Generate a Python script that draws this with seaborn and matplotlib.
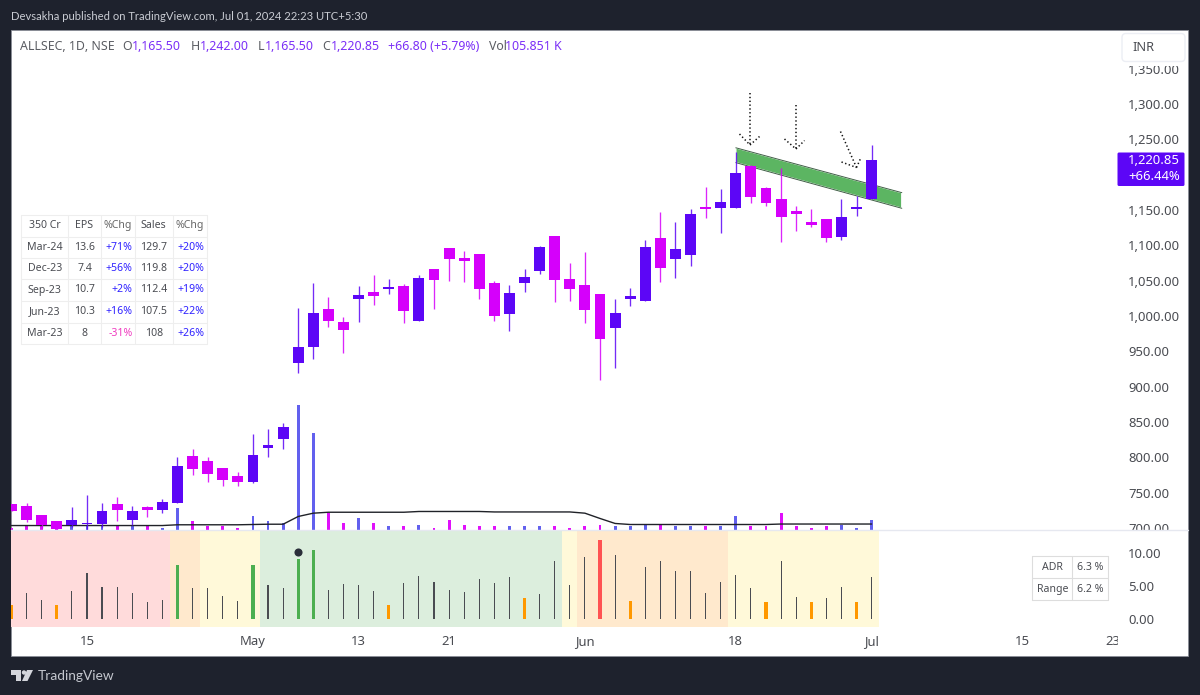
import matplotlib
matplotlib.use("Agg")
import matplotlib.pyplot as plt
import numpy as np
import pandas as pd
import seaborn as sns
from matplotlib.patches import Rectangle, Polygon, FancyBboxPatch, Circle
from matplotlib.transforms import Bbox

# ---------- data ----------
opens = [734,731,718,710,704,705,706,733.5,711,730,725.5,736,802,795,784.5,773.5,764.5,813.5,826,934,956.5,1009.5,991,1024.5,1034,1038,1043,993,1066.5,1096,1081.5,1088,1047,1003.5,1046,1063.5,1113,1052,1043.5,1031,983,1024,1021,1110,1081,1086,1153,1153,1153,1212.5,1181,1165,1149,1133,1137,1112,1152,1165.5]
highs = [734,736,718,710,730,747,736,744,731,731,741,801,812,801,785,779,833,840,848.5,1011,1046,1026.5,998,1043,1058,1052,1045,1058.5,1067,1096,1092,1088,1049,1044,1066,1099,1113,1074.5,1090.5,1031,1024,1040,1107.5,1147.5,1132.5,1152,1183,1180,1232,1213,1183,1209,1156,1152,1137,1165,1170,1242]
lows = [724,709,700,695,702,697,702,710,704,715.5,721.5,736,775,765.5,759,759,764,800,812,920,939,984,947,991,1015.5,1031.5,990,993,1010,1050,1048.5,1024.5,993,979,1034,1059,1020,1021.5,990,909.5,926,1014,1021,1048.5,1054,1071,1139,1118,1153,1159.5,1156,1105,1120,1126,1104,1108,1142,1165.5]
closes = [724,711,704,698,712,707.5,724.5,725.5,724.5,725.5,737,788,784,777,768.5,764.5,803,818,842.5,956.5,1004,993,980.5,1029,1028,1041,1007.5,1054,1051.5,1080,1078,1038,1000,1032,1055.5,1097,1051.5,1038,1009,967,1004,1028,1098,1067.5,1095,1145,1151.5,1161,1202,1168,1159.5,1140,1145,1129,1111,1140,1153.5,1220.85]
volumes_k = [21,32,32,21,32,53,32,32,32,32,21,223,85,42,32,21,148,85,74,1325,1018,170,64,117,64,42,42,53,21,106,53,42,32,42,32,42,42,21,32,53,32,32,53,53,42,42,42,42,138,42,32,170,32,21,32,53,21,106]
volume_ma_k = [42,42,42,42,42,42,42,42,42,42,42,50,50,50,50,50,53,56,56,138,173,183,183,183,183,183,183,191,191,191,191,191,186,186,186,186,186,186,173,117,64,53,53,53,53,53,53,53,53,53,53,58,58,58,58,58,58,58]
adr_values = [2.1,3.9,2.9,2.1,4.3,7.0,4.8,4.8,3.9,2.6,2.9,8.3,4.7,4.7,3.5,2.7,8.3,5.1,4.7,9.2,10.5,4.4,5.3,5.2,4.3,2.1,5.4,6.6,5.6,4.4,4.1,6.1,5.4,6.4,3.2,3.8,8.8,5.2,9.5,12.1,9.8,2.7,8.0,8.9,7.3,7.3,4.0,5.6,6.7,4.7,2.5,8.9,3.3,2.5,3.2,4.9,2.5,6.4]
orange_days = [0,3,25,34,41,50,53,56]
green_days = [11,16,19,20]
red_days = [39]
band_edges = [-0.5,10.5,12.5,16.5,36.5,37.5,47.5,57.5]
band_colors = ["#ffdbdb","#ffe9cd","#fff9d9","#dceedd","#fff9d9","#ffe9cd","#fff9d9"]
price_ticks = [700,750,800,850,900,950,1000,1050,1100,1150,1200,1250,1300,1350]
adr_ticks = [0,5,10]
date_pos = [5,16,23,29,38,48,57,67,73]
date_labels = ["15","May","13","21","Jun","18","Jul","15","23"]
date_bold = ["May","Jun","Jul"]
channel_x = [48,59,59,48]
channel_y = [1238,1174.5,1152.4,1217]
fund_header = ["350 Cr","EPS","%Chg","Sales","%Chg"]
fund_rows = [["Mar-24","13.6","+71%","129.7","+20%"],["Dec-23","7.4","+56%","119.8","+20%"],
             ["Sep-23","10.7","+2%","112.4","+19%"],["Jun-23","10.3","+16%","107.5","+22%"],
             ["Mar-23","8","-31%","108","+26%"]]

# ---------- style ----------
sns.set_theme(style="white")
FONT = ["Noto Sans", "DejaVu Sans"]
plt.rcParams["font.family"] = FONT
DARK = "#1e222d"; UP = "#5c06f6"; DOWN = "#d500fb"; TXT = "#4a4c52"
VUP = "#6260ee"; VDOWN = "#e010fb"

W, H = 1200, 695
fig = plt.figure(figsize=(W/100, H/100), dpi=100, facecolor=DARK)
def rect(x0, y0, x1, y1):
    return [x0/W, 1-y1/H, (x1-x0)/W, (y1-y0)/H]

X0, X1 = 11.0, 1118.0
PX = 15.09; XORG = 11.5
xlim = ((X0-XORG)/PX, (X1-XORG)/PX)
def price(y): return 700 + (528-y)*1.415
def adr(y): return (618.5-y)/6.5

bg = fig.add_axes([0,0,1,1], zorder=0); bg.set_xlim(0,W); bg.set_ylim(H,0); bg.axis("off")
bg.add_patch(Rectangle((11,30),1177,626,fc="white",ec="#8a8d96",lw=0.6))

df = pd.DataFrame(dict(i=np.arange(len(opens)),o=opens,h=highs,l=lows,c=closes,v=volumes_k,ma=volume_ma_k,a=adr_values))
df["k"] = "g"
df.loc[orange_days,"k"]="o"; df.loc[green_days,"k"]="c"; df.loc[red_days,"k"]="r"
df["dir"] = np.where(df.c>=df.o,"up","down")

# volume pane (behind candles)
ax_vol = fig.add_axes(rect(X0,30,X1,529.5), zorder=1)
ax_vol.patch.set_visible(False)
sns.barplot(data=df,x="i",y="v",hue="dir",palette={"up":VUP,"down":VDOWN},dodge=False,native_scale=True,
            orient="x",width=0.19,saturation=1,errorbar=None,legend=False,linewidth=0,ax=ax_vol)
sns.lineplot(data=df,x="i",y="ma",color="#202228",lw=1.0,errorbar=None,ax=ax_vol)
ax_vol.set_xlim(*xlim); ax_vol.set_ylim(0,499.5*10.6)
ax_vol.set_xticks([]); ax_vol.set_yticks([]); ax_vol.set_xlabel(""); ax_vol.set_ylabel("")
sns.despine(ax=ax_vol,left=True,bottom=True)

# candle pane
ax = fig.add_axes(rect(X0,30,X1,529.5), zorder=2)
ax.patch.set_visible(False)
ax.fill(channel_x,channel_y,fc="#5cb562",zorder=1)
ax.plot(channel_x[:2],channel_y[:2],color="#3f5f45",lw=0.7,zorder=1.5)
ax.plot(channel_x[2:],channel_y[2:],color="#3f5f45",lw=0.7,zorder=1.5)
colors = df.dir.map({"up":UP,"down":DOWN})
ax.vlines(df.i,df.l,df.h,colors=colors,lw=0.95,alpha=0.85,zorder=2)
ax.bar(df.i,(df.c-df.o).abs().clip(lower=2.5),bottom=df[["o","c"]].min(axis=1),width=0.72,color=colors,lw=0,zorder=3)
ax.set_xlim(*xlim); ax.set_ylim(price(529.5),price(30))
ax.set_xticks([]); ax.yaxis.tick_right()
ax.set_yticks(price_ticks); ax.set_yticklabels([f"{p:,.2f}" for p in price_ticks])
ax.tick_params(axis="y",length=0,pad=7.2,labelsize=9.4,labelcolor=TXT)
for sp in ax.spines.values(): sp.set_visible(False)
clip = Bbox([[X1, H-529.5],[1188, H-65.5]])
for t in ax.get_yticklabels():
    t.set_clip_box(clip); t.set_clip_on(True)

# lower pane
ax2 = fig.add_axes(rect(X0,530,X1,627), zorder=2)
ax2.patch.set_visible(False)
for a,b,col in zip(band_edges[:-1],band_edges[1:],band_colors):
    ax2.axvspan(a,b,fc=col,lw=0,zorder=0)
df["thin"] = df.a.where(df.k=="g")
df["wide"] = df.a.where(df.k!="g")
sns.barplot(data=df,x="i",y="thin",color="#4a4c52",native_scale=True,orient="x",width=0.075,saturation=1,errorbar=None,linewidth=0,ax=ax2,zorder=2)
sns.barplot(data=df,x="i",y="wide",hue="k",palette={"o":"#ff9800","c":"#4caf50","r":"#ff5252","g":"#3f4146"},dodge=False,native_scale=True,orient="x",
            width=0.22,saturation=1,errorbar=None,legend=False,linewidth=0,ax=ax2,zorder=2)
sns.scatterplot(x=[19],y=[10.25],color="#2a2e39",s=34,linewidth=0,ax=ax2,zorder=3)
ax2.set_xlim(*xlim); ax2.set_ylim(adr(627),adr(530))
ax2.set_xlabel(""); ax2.set_ylabel("")
ax2.yaxis.tick_right()
ax2.set_yticks(adr_ticks); ax2.set_yticklabels([f"{v:.2f}" for v in adr_ticks])
ax2.tick_params(axis="y",length=0,pad=7.2,labelsize=9.4,labelcolor=TXT)
ax2.set_xticks(date_pos); ax2.set_xticklabels(date_labels)
ax2.tick_params(axis="x",length=0,pad=6,labelsize=9.4,labelcolor=TXT)
for sp in ax2.spines.values(): sp.set_visible(False)
cx = Bbox([[0,0],[X1,H]])
for t in ax2.get_xticklabels():
    t.set_clip_box(cx); t.set_clip_on(True)
    if t.get_text() in date_bold: t.set_fontweight("semibold")

# overlay, pixel coordinates for chrome
ov = fig.add_axes([0,0,1,1], zorder=5); ov.set_xlim(0,W); ov.set_ylim(H,0); ov.axis("off")
ov.plot([11,1188],[529.6,529.6],color="#e6e8f0",lw=1)
def dotted(pts):
    xs,ys = zip(*pts)
    ov.plot(xs,ys,color="#111111",lw=1.1,ls=(0,(0.9,1.6)),dash_capstyle="butt")
arrows = [((750,93),(750,145),(739.5,134),(759.5,136.5)),
          ((796,105),(796,149),(784.5,139),(804.5,140.5)),
          ((840.5,131.5),(856.5,167.5),(841.5,162),(861,157.5))]
for s,e,l,r in arrows:
    dotted([s,e]); dotted([l,e]); dotted([e,r])

# header
ov.text(11,17,"Devsakha published on TradingView.com, Jul 01, 2024 22:23 UTC+5:30",color="#c9ccd3",fontsize=8.1,va="center",family=["Lato","DejaVu Sans"])
LG="#5b5d63"; LP="#7b2ff7"
for x,s,c in [(20,"ALLSEC, 1D, NSE",LG),(122.5,"O",LG),(132,"1,165.50",LP),(190.6,"H",LG),(200,"1,242.00",LP),
              (258,"L",LG),(265,"1,165.50",LP),(322.6,"C",LG),(331,"1,220.85",LP),(388.5,"+66.80 (+5.79%)",LP),(488.7,"Vol",LG),(505,"105.851 K",LP)]:
    ov.text(x,47,s,color=c,fontsize=8.9,va="center")

# fundamentals table
cols=[21,68.3,100.7,134.7,172.7,206.7]; rows=[214.7,237,257.7,279,301,322.7,344.3]
for x in cols: ov.plot([x,x],[rows[0],rows[-1]],color="#eeeeee",lw=0.8)
for y in rows: ov.plot([cols[0],cols[-1]],[y,y],color="#eeeeee",lw=0.8)
for r,row in enumerate([fund_header]+fund_rows):
    yc=(rows[r]+rows[r+1])/2
    for c,s in enumerate(row):
        col=TXT
        if r>0 and c in(2,4): col="#f03cc0" if s.startswith("-") else "#2f22ff"
        if r==0 and c in(2,4): col="#666666"
        ov.text(cols[c+1]-2 if (r>0 and c in (2,4)) else (cols[c]+cols[c+1])/2,yc,s,color=col,fontsize=7.6,va="center",
                ha="right" if (r>0 and c in (2,4)) else "center")

# ADR table
ac=[1032.3,1072.3,1107.7]; ar=[556.3,578.3,600]
for x in ac: ov.plot([x,x],[ar[0],ar[-1]],color="#dddddd",lw=0.8)
for y in ar: ov.plot([ac[0],ac[-1]],[y,y],color="#dddddd",lw=0.8)
for y,a,b in [((ar[0]+ar[1])/2,"ADR","6.3 %"),((ar[1]+ar[2])/2,"Range","6.2 %")]:
    ov.text((ac[0]+ac[1])/2,y,a,color=TXT,fontsize=7.6,va="center",ha="center")
    ov.text((ac[1]+ac[2])/2,y,b,color=TXT,fontsize=7.6,va="center",ha="center")

# INR box and last-price tag
ov.add_patch(FancyBboxPatch((1124,35.5),59,24,boxstyle="round,pad=2,rounding_size=4",fc="white",ec="#eceef4",lw=1))
ov.text(1132,47.5,"INR",color=TXT,fontsize=9.2,va="center")
ov.add_patch(FancyBboxPatch((1117.5,152.5),67,33.5,boxstyle="round,pad=0,rounding_size=1.5",fc=UP,ec="none"))
ov.text(1128,161,"1,220.85",color="white",fontsize=9.4,va="center",fontweight="semibold")
ov.text(1128,176.5,"+66.44%",color="white",fontsize=9.4,va="center",fontweight="semibold")

# footer logo
LOGO="#d4d6dc"
ov.add_patch(Polygon([(11,670),(21,670),(21,681),(15.5,681),(15.5,674.5),(11,674.5)],fc=LOGO,ec="none"))
ov.add_patch(Circle((24,672.5),2.2,fc=LOGO,ec="none"))
ov.add_patch(Polygon([(27,670),(33,670),(27.5,681),(22,681)],fc=LOGO,ec="none"))
ov.text(37.5,676,"TradingView",color="#c4c7ce",fontsize=9.9,va="center",family=["Lato","DejaVu Sans"])

fig.savefig("out.png",dpi=100,facecolor=DARK)
